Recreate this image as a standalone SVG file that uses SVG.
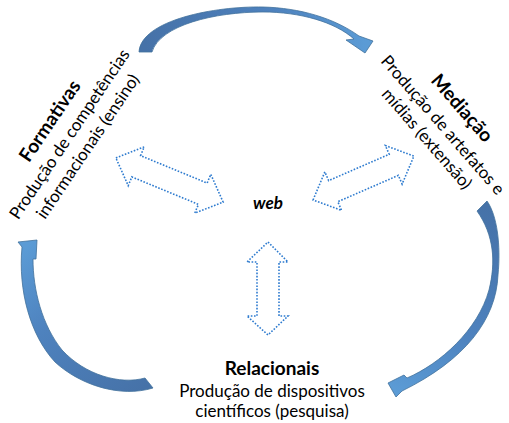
<svg xmlns="http://www.w3.org/2000/svg" width="509" height="423" viewBox="0 0 509 423">
<defs>
<style>
.t{font-family:Lato,"Liberation Sans",sans-serif;font-size:17px;fill:#000}
.b{font-weight:bold;font-size:19px}
.web{font-family:Lato,"Liberation Sans",sans-serif;font-size:17px;font-weight:bold;font-style:italic}
.curve{stroke:#41719C;stroke-width:0.8;stroke-linejoin:round}
.dbl{fill:#fff;stroke:#2E7BCF;stroke-width:1.6;stroke-dasharray:1.6 1.6;stroke-linejoin:miter}
</style>
<linearGradient id="gTop" gradientUnits="userSpaceOnUse" x1="145" y1="50" x2="365" y2="45">
<stop offset="0" stop-color="#4672A8"/><stop offset="0.6" stop-color="#4E82BE"/><stop offset="1" stop-color="#5B9BD5"/>
</linearGradient>
<linearGradient id="gRight" gradientUnits="userSpaceOnUse" x1="482" y1="205" x2="392" y2="388">
<stop offset="0" stop-color="#4672A8"/><stop offset="0.6" stop-color="#4E82BE"/><stop offset="1" stop-color="#5B9BD5"/>
</linearGradient>
<linearGradient id="gLeft" gradientUnits="userSpaceOnUse" x1="150" y1="383" x2="28" y2="245">
<stop offset="0" stop-color="#4672A8"/><stop offset="0.6" stop-color="#4E82BE"/><stop offset="1" stop-color="#5B9BD5"/>
</linearGradient>
</defs>
<rect width="509" height="423" fill="#fff"/>
<g id="connectors">
<path class="curve" fill="url(#gTop)" d="M139,52 C141,20 215,6 263,7 C300,8 334,18 359,36 L373,41 L365,53 L346,40 L354,39 C335,22 300,12 263,12 C215,12 160,25 152,52 Z"/>
<path class="curve" fill="url(#gRight)" d="M487,201 C497,215 501,245 498,275 C496,320 465,360 402,391 L396,397 L388,383 L404,375 L407,378 C440,364 478,330 489,290 C496,262 494,235 477,211 Z"/>
<path class="curve" fill="url(#gLeft)" d="M153,388 C120,398 80,385 55,362 C30,335 18,290 22,247 L18,242 L37,240 L36,259 L33,259 C33,290 42,325 62,350 C85,375 120,385 145,378 Z"/>
<polygon class="dbl" transform="translate(169.5,180) rotate(22.4)" points="-58,0 -36,-21 -36,-11.5 36,-11.5 36,-21 58,0 36,21 36,11.5 -36,11.5 -36,21"/>
<polygon class="dbl" transform="translate(363.5,178) rotate(-23.5)" points="-55,0 -33,-21 -33,-11.5 33,-11.5 33,-21 55,0 33,21 33,11.5 -33,11.5 -33,21"/>
<polygon class="dbl" points="268,242 288,262 279,262 279,316 288,316 268,335 247,316 257,316 257,262 247,262"/>
</g>
<g id="node-web">
<text class="web" x="268" y="209" text-anchor="middle">web</text>
</g>
<g id="node-formativas" transform="translate(50.5,122.5) rotate(-56)">
<text class="t" text-anchor="middle" x="1"><tspan class="b" x="1" y="5">Formativas</tspan><tspan x="1" y="28">Produção de competências</tspan><tspan x="1" y="50">informacionais (ensino)</tspan></text>
</g>
<g id="node-mediacao" transform="translate(461,109) rotate(49)">
<text class="t" text-anchor="middle"><tspan class="b" x="0" y="5">Mediação</tspan><tspan x="0" y="30">Produção de artefatos e</tspan><tspan x="0" y="51">mídias (extensão)</tspan></text>
</g>
<g id="node-relacionais">
<text class="t" text-anchor="middle"><tspan class="b" x="272" y="375">Relacionais</tspan><tspan x="272" y="397">Produção de dispositivos</tspan><tspan x="272" y="417">científicos (pesquisa)</tspan></text>
</g>
</svg>
